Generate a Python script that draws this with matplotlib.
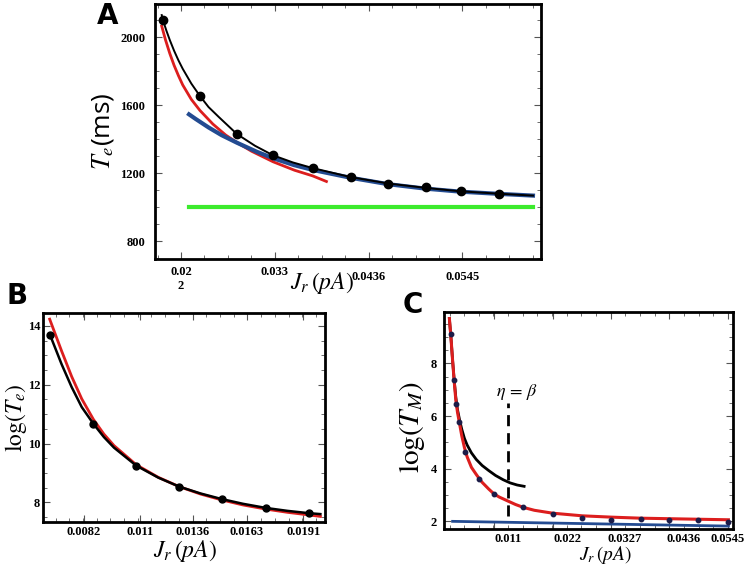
import numpy as np
import matplotlib
matplotlib.use("Agg")
import matplotlib.pyplot as plt
from matplotlib.ticker import FixedLocator, MultipleLocator
from matplotlib.transforms import ScaledTranslation

plt.rcParams['mathtext.fontset'] = 'stix'

# ---------------- panel A : T_e vs J_r ----------------
a_pts_J = [0.0197, 0.0240, 0.0283, 0.0325, 0.0371, 0.0415, 0.0459, 0.0503, 0.0543, 0.0588]
a_pts_T = [2102, 1655, 1431, 1306, 1231, 1178, 1137, 1117, 1096, 1080]

a_black_J = [0.01956, 0.0197, 0.0201, 0.0205, 0.0210, 0.0215, 0.0220, 0.0230, 0.0240, 0.0250,
             0.0262, 0.0283, 0.0304, 0.0325, 0.0348, 0.0371, 0.0415, 0.0459, 0.0503, 0.0543,
             0.0588, 0.0627]
a_black_T = [2131, 2102, 2040, 1984, 1921, 1865, 1815, 1728, 1655, 1590,
             1531, 1431, 1362, 1306, 1264, 1231, 1178, 1140, 1114, 1094, 1080, 1069]

a_red_J = [0.01956, 0.0200, 0.0205, 0.0210, 0.0215, 0.0220, 0.0230, 0.0240, 0.0255, 0.0270,
           0.0285, 0.0300, 0.0325, 0.0350, 0.0371, 0.0387]
a_red_T = [2066, 1985, 1905, 1835, 1775, 1720, 1635, 1570, 1490, 1425,
           1375, 1330, 1268, 1218, 1185, 1152]

a_blue_J = [0.02273, 0.0235, 0.0250, 0.0265, 0.0283, 0.0306, 0.0325, 0.0349, 0.0371,
            0.0415, 0.0459, 0.0502, 0.0543, 0.0588, 0.0627]
a_blue_T = [1547, 1520, 1470, 1425, 1380, 1327, 1289, 1249, 1220, 1174, 1136, 1110, 1092, 1079, 1069]

a_green_J = [0.02273, 0.06274]
a_green_T = [1000, 1000]

a_xticks = [0.0218, 0.0327, 0.0436, 0.0545]
a_xticklabels = ["0.02\n2", "0.033", "0.0436", "0.0545"]
a_yticks = [800, 1200, 1600, 2000]

# ---------------- panel B : log(T_e) vs J_r ----------------
b_pts_J = [0.00653, 0.00868, 0.01080, 0.01295, 0.01505, 0.01723, 0.01938]
b_pts_v = [13.69, 10.67, 9.25, 8.53, 8.11, 7.81, 7.63]

b_black_J = [0.00653, 0.0071, 0.0076, 0.0081, 0.00868, 0.0092, 0.0097, 0.0108, 0.0119,
             0.01295, 0.0140, 0.01505, 0.0161, 0.01723, 0.0183, 0.01938, 0.01994]
b_black_v = [13.69, 12.70, 11.92, 11.24, 10.67, 10.22, 9.86, 9.25, 8.84,
             8.53, 8.30, 8.11, 7.95, 7.81, 7.71, 7.63, 7.60]

b_red_J = [0.00651, 0.0071, 0.0076, 0.0081, 0.00868, 0.0092, 0.0097, 0.0108, 0.0119,
           0.01295, 0.0140, 0.01505, 0.0161, 0.01723, 0.0183, 0.01938, 0.01994]
b_red_v = [14.23, 13.15, 12.28, 11.52, 10.82, 10.32, 9.93, 9.28, 8.85,
           8.53, 8.28, 8.08, 7.91, 7.77, 7.66, 7.57, 7.52]

b_xticks = [0.0082, 0.011, 0.0136, 0.0163, 0.0191]
b_xticklabels = ["0.0082", "0.011", "0.0136", "0.0163", "0.0191"]
b_yticks = [8, 10, 12, 14]

# ---------------- panel C : log(T_M) vs J_r ----------------
c_pts_J = [0.00295, 0.00356, 0.00393, 0.00455, 0.00566, 0.00827, 0.0110, 0.01645,
           0.02192, 0.02743, 0.03276, 0.03829, 0.04361, 0.04900, 0.05458]
c_pts_v = [9.10, 7.37, 6.46, 5.79, 4.65, 3.61, 3.04, 2.53, 2.29, 2.13, 2.04, 2.08, 2.04, 2.04, 1.96]

c_red_J = [0.0027, 0.0030, 0.0033, 0.0036, 0.0039, 0.0042, 0.0046, 0.0050, 0.0055, 0.0060,
           0.0068, 0.0077, 0.0083, 0.0088, 0.0100, 0.0110, 0.0120, 0.0137, 0.0150, 0.01645,
           0.0185, 0.0219, 0.0274, 0.0328, 0.0383, 0.0436, 0.0490, 0.0546]
c_red_v = [9.7, 8.95, 8.1, 7.3, 6.6, 6.15, 5.7, 5.25, 4.8, 4.45,
           4.05, 3.78, 3.61, 3.48, 3.23, 3.04, 2.92, 2.76, 2.64, 2.53,
           2.42, 2.31, 2.21, 2.16, 2.12, 2.10, 2.08, 2.06]

c_black_J = [0.0027, 0.0030, 0.0033, 0.0036, 0.0039, 0.0042, 0.0046, 0.0050, 0.0055, 0.0060,
             0.0068, 0.0077, 0.0088, 0.0100, 0.0113, 0.0127, 0.0140, 0.0153, 0.0166]
c_black_v = [9.7, 8.95, 8.1, 7.35, 6.7, 6.25, 5.85, 5.5, 5.15, 4.9,
             4.6, 4.35, 4.12, 3.93, 3.74, 3.58, 3.46, 3.38, 3.33]

c_blue_J = [0.0033, 0.0546]
c_blue_v = [2.0, 1.82]

c_eta_J = 0.0136
c_eta_v = [2.19, 6.48]

c_xticks = [0.011, 0.022, 0.0327, 0.0436, 0.0545]
c_xticklabels = ["0.011", "0.022", "0.0327", "0.0436", "0.0545"]
c_yticks = [2, 4, 6, 8]

RED = '#dc1e1e'
BLUE = '#234b91'
GREEN = '#3ceb2d'
TICKFONT = dict(family='Liberation Serif', size=9, weight='bold')


def frame(ax, xticks, xlabels, yticks, xminor, yminor, xpad=5, ypad=5):
    for s in ax.spines.values():
        s.set_linewidth(2)
    ax.xaxis.set_major_locator(FixedLocator(xticks))
    ax.set_xticklabels(xlabels)
    ax.yaxis.set_major_locator(FixedLocator(yticks))
    ax.set_yticklabels([str(v) for v in yticks])
    ax.xaxis.set_minor_locator(MultipleLocator(xminor))
    ax.yaxis.set_minor_locator(MultipleLocator(yminor))
    ax.tick_params(which='both', direction='in', top=True, right=True, color='#555555')
    ax.tick_params(which='major', length=5, width=0.8)
    ax.tick_params(which='minor', length=3, width=0.6)
    ax.tick_params(axis='x', which='major', pad=xpad)
    ax.tick_params(axis='y', which='major', pad=ypad)
    for lab in ax.get_xticklabels() + ax.get_yticklabels():
        lab.set_fontfamily(TICKFONT['family'])
        lab.set_fontsize(TICKFONT['size'])
        lab.set_fontweight(TICKFONT['weight'])


def nudge(labels, offsets_px, fig, vertical=False):
    # move individual tick labels by a few pixels, as in the original layout
    for lab, d in zip(labels, offsets_px):
        dx, dy = (0, d) if vertical else (d, 0)
        lab.set_transform(lab.get_transform() + ScaledTranslation(dx / 100, dy / 100, fig.dpi_scale_trans))


fig = plt.figure(figsize=(7.47, 5.66), dpi=100)

# panel A
axA = fig.add_axes([0.2075, 0.5424, 0.5167, 0.4505])
axA.plot(a_green_J, a_green_T, color=GREEN, lw=3)
axA.plot(a_red_J, a_red_T, color=RED, lw=2)
axA.plot(a_blue_J, a_blue_T, color=BLUE, lw=3)
axA.plot(a_black_J, a_black_T, color='black', lw=1.4)
axA.plot(a_pts_J, a_pts_T, 'o', color='black', ms=6)
axA.set_xlim(0.01878, 0.06363)
axA.set_ylim(696, 2196)
frame(axA, a_xticks, a_xticklabels, a_yticks, 0.002725, 100, xpad=5, ypad=7)
nudge(axA.get_xticklabels(), [0, 0, -5, -5], fig, vertical=True)
axA.set_ylabel(r'$T_e$(ms)', fontsize=19, fontfamily='Open Sans')
axA.yaxis.set_label_coords(-0.10, 0.5)
axA.set_xlabel(r'$J_r\,(pA)$', fontsize=17)
axA.xaxis.set_label_coords(0.432, -0.045)

# panel B
axB = fig.add_axes([0.0576, 0.0777, 0.3775, 0.3693])
axB.plot(b_red_J, b_red_v, color=RED, lw=2)
axB.plot(b_black_J, b_black_v, color='black', lw=1.8)
axB.plot(b_pts_J, b_pts_v, 'o', color='black', ms=5)
axB.set_xlim(0.00618, 0.02017)
axB.set_ylim(7.33, 14.44)
frame(axB, b_xticks, b_xticklabels, b_yticks, 0.00068, 0.5, xpad=3, ypad=2)
axB.set_ylabel(r'$\log(T_e)$', fontsize=17)
axB.yaxis.set_label_coords(-0.05, 0.5)
axB.set_xlabel(r'$J_r\,(pA)$', fontsize=17)
axB.xaxis.set_label_coords(0.505, -0.075)

# panel C
axC = fig.add_axes([0.5944, 0.0654, 0.3869, 0.3834])
axC.plot(c_blue_J, c_blue_v, color=BLUE, lw=2)
axC.plot(c_black_J, c_black_v, color='black', lw=2)
axC.plot(c_red_J, c_red_v, color=RED, lw=2.2)
axC.plot(c_pts_J, c_pts_v, 'o', color='#1c1c48', ms=3.2)
axC.plot([c_eta_J, c_eta_J], c_eta_v, color='black', lw=2, ls=(0, (4, 2.5)))
axC.text(c_eta_J + 0.0016, 6.93, r'$\eta\,=\,\beta$', fontsize=13, ha='center', va='center')
axC.set_xlim(0.0017, 0.05546)
axC.set_ylim(1.71, 9.95)
frame(axC, c_xticks, c_xticklabels, c_yticks, 0.002725, 0.5, xpad=3, ypad=5)
# the original has these tick labels a bit right of their ticks (except the last)
nudge(axC.get_xticklabels(), [14, 14, 14, 14, 0], fig)
axC.set_ylabel(r'$\log(T_M)$', fontsize=21)
axC.yaxis.set_label_coords(-0.058, 0.47)
axC.set_xlabel(r'$J_r\,(pA)$', fontsize=14)
axC.xaxis.set_label_coords(0.56, -0.07)

# panel letters
fig.text(108 / 747, 1 - 16 / 566, 'A', fontsize=20, fontweight='bold', ha='center', va='center')
fig.text(17 / 747, 1 - 296 / 566, 'B', fontsize=20, fontweight='bold', ha='center', va='center')
fig.text(413 / 747, 1 - 305 / 566, 'C', fontsize=20, fontweight='bold', ha='center', va='center')

fig.savefig('out.png', dpi=100)
